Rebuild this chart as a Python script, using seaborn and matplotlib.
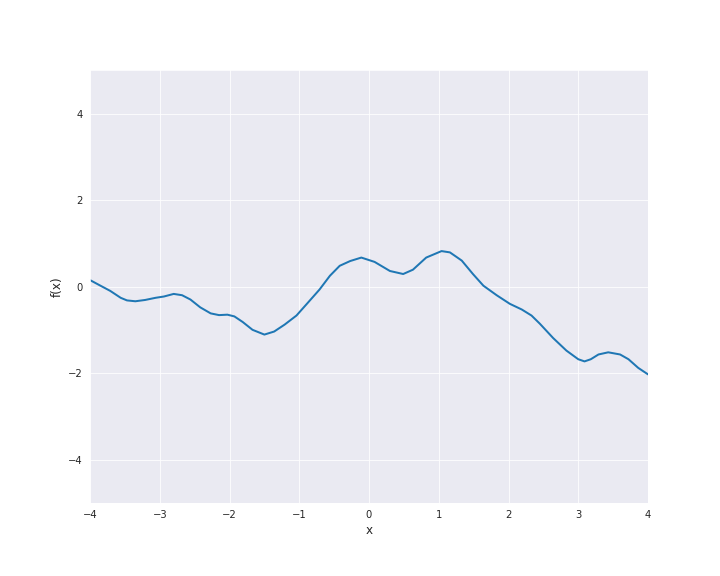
import matplotlib
matplotlib.use('Agg')
import matplotlib.pyplot as plt
import seaborn as sns
import pandas as pd

x_vals = [-4.00, -3.85, -3.71, -3.56, -3.47, -3.35, -3.21, -3.06, -2.94, -2.80,
          -2.68, -2.56, -2.42, -2.27, -2.15, -2.03, -1.93, -1.81, -1.67, -1.50,
          -1.36, -1.21, -1.04, -0.88, -0.71, -0.56, -0.42, -0.27, -0.11, 0.08,
          0.30, 0.49, 0.63, 0.82, 1.04, 1.16, 1.25, 1.33, 1.49, 1.64,
          1.83, 2.02, 2.19, 2.33, 2.45, 2.64, 2.83, 3.00, 3.09, 3.18,
          3.29, 3.43, 3.60, 3.72, 3.86, 4.00]
f_vals = [0.15, 0.02, -0.10, -0.26, -0.32, -0.34, -0.31, -0.26, -0.23, -0.17,
          -0.20, -0.30, -0.48, -0.62, -0.66, -0.65, -0.69, -0.82, -1.00, -1.11,
          -1.04, -0.88, -0.67, -0.38, -0.07, 0.25, 0.48, 0.59, 0.67, 0.57,
          0.36, 0.29, 0.39, 0.67, 0.82, 0.79, 0.69, 0.60, 0.29, 0.02,
          -0.20, -0.40, -0.53, -0.67, -0.86, -1.19, -1.48, -1.68, -1.73, -1.68,
          -1.57, -1.52, -1.57, -1.68, -1.88, -2.03]

df = pd.DataFrame({'x': x_vals, 'f(x)': f_vals})

sns.set_style("darkgrid")
fig = plt.figure(figsize=(10, 8), dpi=72)
ax = fig.add_subplot(111)
fig.subplots_adjust(left=0.125, right=0.9, top=0.878, bottom=0.127)
sns.lineplot(x='x', y='f(x)', data=df, ax=ax, color='#1f77b4', linewidth=2)
ax.set_xlim(-4, 4)
ax.set_ylim(-5, 5)
ax.set_xlabel('x', fontsize=12)
ax.set_ylabel('f(x)', fontsize=12)
plt.savefig('out.png', dpi=72)
